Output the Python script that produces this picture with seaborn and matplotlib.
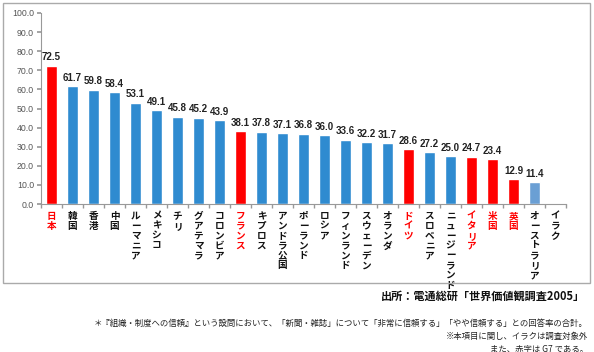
import matplotlib
matplotlib.use("Agg")
import matplotlib.pyplot as plt
import seaborn as sns
import pandas as pd
from matplotlib.patches import Rectangle

countries = ["日本", "韓国", "香港", "中国", "ルーマニア", "メキシコ", "チリ", "グアテマラ",
             "コロンビア", "フランス", "キプロス", "アンドラ公国", "ポーランド", "ロシア",
             "フィンランド", "スウェーデン", "オランダ", "ドイツ", "スロベニア",
             "ニュージーランド", "イタリア", "米国", "英国", "オーストラリア", "イラク"]
values = [72.5, 61.7, 59.8, 58.4, 53.1, 49.1, 45.8, 45.2, 43.9, 38.1, 37.8, 37.1,
          36.8, 36.0, 33.6, 32.2, 31.7, 28.6, 27.2, 25.0, 24.7, 23.4, 12.9, 11.4, None]
g7 = ["日本", "フランス", "ドイツ", "イタリア", "米国", "英国"]
yticks = [0, 10, 20, 30, 40, 50, 60, 70, 80, 90, 100]

BLUE = "#2F8BD0"
RED = "#FF0000"
LIGHT = "#6A9FD4"

sns.set_theme(style="white")
plt.rcParams['font.family'] = ['Noto Sans CJK JP', 'DejaVu Sans']

df = pd.DataFrame({"country": countries, "value": [v if v is not None else 0 for v in values]})
palette = {}
for c in countries:
    if c in g7:
        palette[c] = RED
    elif c == "オーストラリア":
        palette[c] = LIGHT
    else:
        palette[c] = BLUE

fig = plt.figure(figsize=(5.94, 3.52), dpi=100)
ax = fig.add_axes([41/594, 1-204/352, (566-41)/594, (204-13)/352])

sns.barplot(data=df, x="country", y="value", hue="country", palette=palette,
            order=countries, legend=False, width=0.48, saturation=1, ax=ax)

for i, v in enumerate(values):
    if v is None:
        continue
    ax.text(i, v + 1.8, f"{v:.1f}", ha="center", va="bottom", fontsize=7,
            fontweight="bold", color="#222222", family="Liberation Sans")

ax.set_ylim(0, 100)
ax.set_xlim(-0.5, len(countries) - 0.5)
ax.set_yticks(yticks)
ax.set_yticklabels([f"{t:.1f}" for t in yticks], fontsize=6.3, color="#555555",
                   family="Liberation Sans")
ax.set_xticks(range(len(countries)))
ax.set_xticklabels(["\n".join(c) for c in countries], fontsize=6.9, fontweight="bold",
                   linespacing=0.98, va="top")
for lbl, c in zip(ax.get_xticklabels(), countries):
    lbl.set_color(RED if c in g7 else "#111111")
ax.set_xlabel("")
ax.set_ylabel("")

for s in ["top", "right"]:
    ax.spines[s].set_visible(False)
ax.spines["left"].set_color("#999999")
ax.spines["bottom"].set_color("#999999")
ax.spines["left"].set_linewidth(0.8)
ax.spines["bottom"].set_linewidth(0.8)
ax.tick_params(axis="x", length=0, pad=5)
ax.tick_params(axis="y", length=3, color="#999999", pad=2, left=True)
ax.set_xticks([i - 0.5 for i in range(len(countries) + 1)], minor=True)
ax.tick_params(axis="x", which="minor", length=3, color="#999999", bottom=True)
ax.grid(False)

fig.patches.append(Rectangle((3/594, 1-283/352), 587/594, 280/352, transform=fig.transFigure,
                             fill=False, edgecolor="#AAAAAA", linewidth=1.0))

fig.text(585/594, 1-296/352, "出所：電通総研「世界価値観調査2005」", ha="right", va="center",
         fontsize=8.0, fontweight="bold", color="#111111")
fig.text(588/594, 1-323/352,
         "＊『組織・制度への信頼』という設問において、「新聞・雑誌」について「非常に信頼する」「やや信頼する」との回答率の合計。",
         ha="right", va="center", fontsize=6.05, color="#222222")
fig.text(588/594, 1-336/352, "※本項目に関し、イラクは調査対象外", ha="right", va="center",
         fontsize=6.05, color="#222222")
fig.text(588/594, 1-349/352, "また、赤字は G7 である。", ha="right", va="center",
         fontsize=6.05, color="#222222")

fig.savefig("out.png", dpi=100)
